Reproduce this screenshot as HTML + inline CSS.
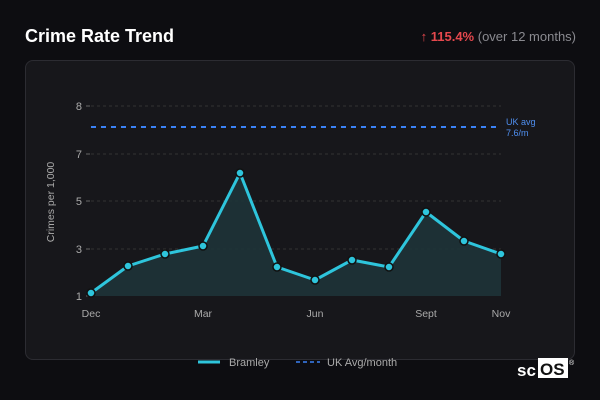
<!DOCTYPE html><html><head><style>
body{margin:0;width:600px;height:400px;background:#0d0d11;font-family:"Liberation Sans",sans-serif;overflow:hidden;position:relative}
.t{position:absolute;left:25px;top:26px;color:#fff;font-weight:bold;font-size:18px}
.r{position:absolute;right:24px;top:29px;font-size:13px;color:#8a8a90}
.r b{color:#e5484d}
.card{position:absolute;left:25px;top:60px;width:550px;height:300px;border:1px solid #2c2c32;border-radius:8px;background:#17171b;box-sizing:border-box}
</style></head><body>
<div class="t">Crime Rate Trend</div>
<div class="r"><b>↑ 115.4%</b> (over 12 months)</div>
<div class="card"></div>
<svg width="600" height="400" style="position:absolute;left:0;top:0" font-family="Liberation Sans, sans-serif">
<g stroke="#333" stroke-dasharray="3,3" stroke-width="1">
<line x1="91" x2="501" y1="106" y2="106"/><line x1="91" x2="501" y1="154" y2="154"/><line x1="91" x2="501" y1="201" y2="201"/><line x1="91" x2="501" y1="249" y2="249"/></g>
<g stroke="#666"><line x1="86" x2="90" y1="106" y2="106"/><line x1="86" x2="90" y1="154" y2="154"/><line x1="86" x2="90" y1="201" y2="201"/><line x1="86" x2="90" y1="249" y2="249"/><line x1="86" x2="90" y1="296" y2="296"/></g>
<g fill="#aaa" font-size="11" text-anchor="end"><text x="82" y="110">8</text><text x="82" y="158">7</text><text x="82" y="205">5</text><text x="82" y="253">3</text><text x="82" y="300">1</text></g>
<text transform="translate(54,202) rotate(-90)" fill="#aaa" font-size="10.5" text-anchor="middle">Crimes per 1,000</text>
<g fill="#aaa" font-size="10.5" text-anchor="middle"><text x="91" y="317">Dec</text><text x="203" y="317">Mar</text><text x="315" y="317">Jun</text><text x="426" y="317">Sept</text><text x="501" y="317">Nov</text></g>
<line x1="91" x2="498" y1="127" y2="127" stroke="#3b82f6" stroke-width="2" stroke-dasharray="5,5"/>
<text x="506" y="125" fill="#4f8ff0" font-size="9">UK avg</text><text x="506" y="136" fill="#4f8ff0" font-size="9">7.6/m</text>
<polygon fill="#1e3338" opacity="0.9" points="91,296 91,293 128,266 165,254 203,246 240,173 277,267 315,280 352,260 389,267 426,212 464,241 501,254 501,296"/>
<polyline fill="none" stroke="#2ec5dc" stroke-width="3" stroke-linejoin="round" points="91,293 128,266 165,254 203,246 240,173 277,267 315,280 352,260 389,267 426,212 464,241 501,254"/>
<g fill="#2ec5dc" stroke="#111" stroke-width="1.5">
<circle cx="91" cy="293" r="4"/><circle cx="128" cy="266" r="4"/><circle cx="165" cy="254" r="4"/><circle cx="203" cy="246" r="4"/><circle cx="240" cy="173" r="4"/><circle cx="277" cy="267" r="4"/><circle cx="315" cy="280" r="4"/><circle cx="352" cy="260" r="4"/><circle cx="389" cy="267" r="4"/><circle cx="426" cy="212" r="4"/><circle cx="464" cy="241" r="4"/><circle cx="501" cy="254" r="4"/></g>
<line x1="198" x2="220" y1="362" y2="362" stroke="#2ec5dc" stroke-width="3"/>
<text x="229" y="366" fill="#aaa" font-size="11">Bramley</text>
<line x1="296" x2="320" y1="362" y2="362" stroke="#3b82f6" stroke-width="1.5" stroke-dasharray="4,3"/>
<text x="327" y="366" fill="#aaa" font-size="11">UK Avg/month</text>
<text x="517" y="376" fill="#fff" font-size="17" font-weight="bold">sc</text>
<rect x="538" y="358" width="30" height="20" fill="#fff"/>
<text x="540" y="375" fill="#111" font-size="17" font-weight="bold">OS</text>
<text x="569" y="365" fill="#fff" font-size="7">®</text>
</svg>
</body></html>
